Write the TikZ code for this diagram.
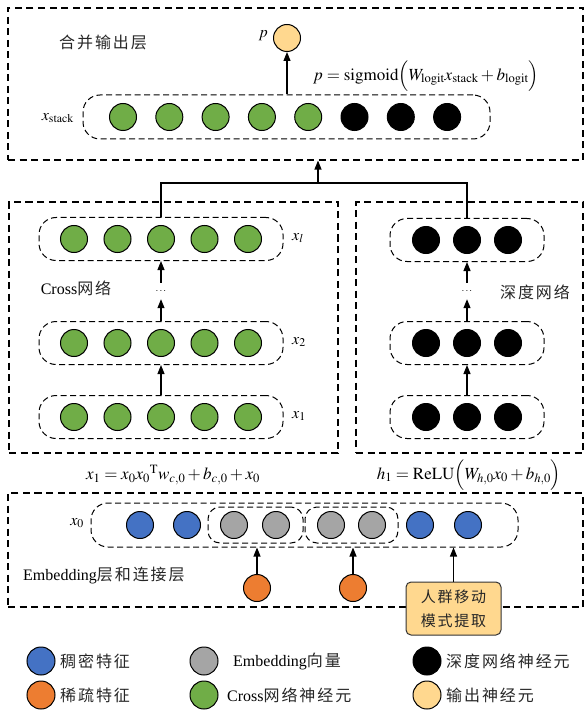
\documentclass[tikz,border=0pt]{standalone}
\usepackage{mathptmx}
\usepackage[no-math]{fontspec}
\setmainfont{Liberation Serif}
\newfontfamily\cjkfam[LetterSpace=12]{Noto Sans CJK SC}
\newcommand{\cjk}{\cjkfam\color{black!85}}
\usetikzlibrary{arrows.meta}
\definecolor{cgreen}{HTML}{70AD47}
\definecolor{cblue}{HTML}{4472C4}
\definecolor{cgray}{HTML}{A5A5A5}
\definecolor{corange}{HTML}{ED7D31}
\definecolor{cyellow}{HTML}{FFD88F}
\tikzset{
  frame/.style={draw, dash pattern=on 7pt off 4.5pt, line width=1.1pt, inner sep=0pt},
  rowbox/.style={draw, dash pattern=on 6pt off 3.5pt, line width=1pt, rounded corners=17pt, minimum height=43pt, inner sep=0pt},
  grpbox/.style={draw, dash pattern=on 6pt off 3.5pt, line width=1pt, rounded corners=12pt, minimum height=36pt, inner sep=0pt},
  neuron/.style={circle, draw, line width=1pt, minimum size=27pt, inner sep=0pt},
  legn/.style={circle, draw, line width=1pt, minimum size=28pt, inner sep=0pt},
  arr/.style={-{Triangle[length=9pt,width=7pt]}, line width=1.1pt},
  conn/.style={line width=1.1pt},
  lbl/.style={font=\fontsize{16}{19}\selectfont, inner sep=0pt},
  fml/.style={font=\fontsize{17}{20}\selectfont, inner sep=0pt},
  dotsn/.style={font=\fontsize{10}{12}\selectfont, inner sep=0pt, minimum height=16pt}
}
\begin{document}
\begin{tikzpicture}[x=1pt,y=-1pt]
\useasboundingbox (0,0) rectangle (584,711);

% ---------- top: merge output layer ----------
\node[frame, minimum width=575pt, minimum height=152pt] (topf) at (295.5,84) {};
\node[lbl] (ttl) at (103,42) {\cjk 合并输出层};
\node[neuron, fill=cyellow] (p) at (287,38) {};
\node[lbl, anchor=east] (plbl) at (268,36) {$p$};
\node[rowbox, minimum width=407pt, minimum height=44pt] (xsbox) at (286.5,117) {};
\foreach \i in {1,...,5} {
  \node[neuron, fill=cgreen] (s\i) at ({123+46.3*(\i-1)},117) {};
}
\foreach \i in {6,7,8} {
  \node[neuron, fill=black] (s\i) at ({123+46.3*(\i-1)},117) {};
}
\node[lbl, anchor=east] (xsl) at (74,118) {$x_{\mathrm{stack}}$};
\draw[arr] (p |- xsbox.north) -- (p.south);
\node[fml] (fp) at (426,76) {$p=\mathrm{sigmoid}\Bigl(W_{\mathrm{logit}}x_{\mathrm{stack}}+b_{\mathrm{logit}}\Bigr)$};

% ---------- cross network ----------
\node[frame, minimum width=329pt, minimum height=251pt] (crossf) at (173.5,327.5) {};
\node[rowbox, minimum width=244pt] (xlbox) at (161,239) {};
\node[rowbox, minimum width=244pt] (x2box) at (161,343) {};
\node[rowbox, minimum width=244pt] (x1box) at (161,417) {};
\foreach \i in {1,...,5} {
  \node[neuron, fill=cgreen] (cl\i) at ({161+43.5*(\i-3)},239) {};
  \node[neuron, fill=cgreen] (cb\i) at ({161+43.5*(\i-3)},343) {};
  \node[neuron, fill=cgreen] (ca\i) at ({161+43.5*(\i-3)},417) {};
}
\node[lbl, anchor=west] (xll) at (292,238) {$x_l$};
\node[lbl, anchor=west] (x2l) at (292,342) {$x_2$};
\node[lbl, anchor=west] (x1l) at (292,416) {$x_1$};
\node[lbl] (crossl) at (76,288) {Cross{\cjk 网络}};
\node[dotsn] (cd) at (161,291) {$\cdots$};
\draw[arr] (x1box.north) -- (x2box.south);
\draw[arr] (x2box.north) -- (cd.south);
\draw[arr] (cd.north) -- (xlbox.south);

% ---------- deep network ----------
\node[frame, minimum width=227pt, minimum height=251pt] (deepf) at (469.5,327.5) {};
\node[rowbox, minimum width=154pt] (dlbox) at (467,240) {};
\node[rowbox, minimum width=154pt] (d2box) at (467,343) {};
\node[rowbox, minimum width=154pt] (d1box) at (467,417) {};
\foreach \i in {1,2,3} {
  \node[neuron, fill=black] (dl\i) at ({467+41*(\i-2)},240) {};
  \node[neuron, fill=black] (db\i) at ({467+41*(\i-2)},343) {};
  \node[neuron, fill=black] (da\i) at ({467+41*(\i-2)},417) {};
}
\node[lbl] (deepl) at (535,292) {\cjk 深度网络};
\node[dotsn] (dd) at (467,291) {$\cdots$};
\draw[arr] (d1box.north) -- (d2box.south);
\draw[arr] (d2box.north) -- (dd.south);
\draw[arr] (dd.north) -- (dlbox.south);

% ---------- merge connector ----------
\coordinate (jn) at (318,183);
\draw[conn] (xlbox.north) |- (jn) -| (dlbox.north);
\draw[arr] (jn) -- (jn |- topf.south);

% ---------- formulas ----------
\node[fml] (fx1) at (173,475) {$x_1=x_0x_0{}^{\mathrm{T}}w_{c,0}+b_{c,0}+x_0$};
\node[fml] (fh1) at (469,475) {$h_1=\mathrm{ReLU}\Bigl(W_{h,0}x_0+b_{h,0}\Bigr)$};

% ---------- embedding layer ----------
\node[frame, minimum width=575pt, minimum height=114pt] (embf) at (295.5,550) {};
\node[rowbox, minimum width=427pt, minimum height=44pt] (x0box) at (304.5,525) {};
\node[grpbox, minimum width=95pt] (g1) at (255.5,525) {};
\node[grpbox, minimum width=93pt] (g2) at (351.5,525) {};
\node[neuron, fill=cblue] (e1) at (140,525) {};
\node[neuron, fill=cblue] (e2) at (187,525) {};
\node[neuron, fill=cgray] (e3) at (234,525) {};
\node[neuron, fill=cgray] (e4) at (276,525) {};
\node[neuron, fill=cgray] (e5) at (331,525) {};
\node[neuron, fill=cgray] (e6) at (372,525) {};
\node[neuron, fill=cblue] (e7) at (420,525) {};
\node[neuron, fill=cblue] (e8) at (468,525) {};
\node[lbl, anchor=east] (x0l) at (84,523) {$x_0$};
\node[lbl, anchor=west] (embl) at (23,576) {Embedding{\cjk 层和连接层}};
\node[neuron, fill=corange] (o1) at (257,588) {};
\node[neuron, fill=corange] (o2) at (353,588) {};
\node[draw=black!80, line width=1pt, fill=cyellow, rounded corners=5pt, minimum width=95pt, minimum height=53pt, align=center, font=\fontsize{15}{24}\selectfont\cjk, inner sep=0pt] (rq) at (453.5,608.5) {人群移动\\模式提取};
\draw[arr] (o1.north) -- (o1 |- x0box.south);
\draw[arr] (o2.north) -- (o2 |- x0box.south);
\draw[arr] (rq.north) -- (rq.north |- x0box.south);

% ---------- legend ----------
\node[legn, fill=cblue] (lg1) at (41,661) {};
\node[lbl, anchor=west] (lt1) at (60,661) {\cjk 稠密特征};
\node[legn, fill=cgray] (lg2) at (204,661) {};
\node[lbl, anchor=west] (lt2) at (233,661) {Embedding{\cjk 向量}};
\node[legn, fill=black] (lg3) at (427,661) {};
\node[lbl, anchor=west] (lt3) at (446,661) {\cjk 深度网络神经元};
\node[legn, fill=corange] (lg4) at (41,695) {};
\node[lbl, anchor=west] (lt4) at (60,695) {\cjk 稀疏特征};
\node[legn, fill=cgreen] (lg5) at (204,695) {};
\node[lbl, anchor=west] (lt5) at (227,695) {Cross{\cjk 网络神经元}};
\node[legn, fill=cyellow] (lg6) at (427,695) {};
\node[lbl, anchor=west] (lt6) at (446,695) {\cjk 输出神经元};
\end{tikzpicture}
\end{document}
